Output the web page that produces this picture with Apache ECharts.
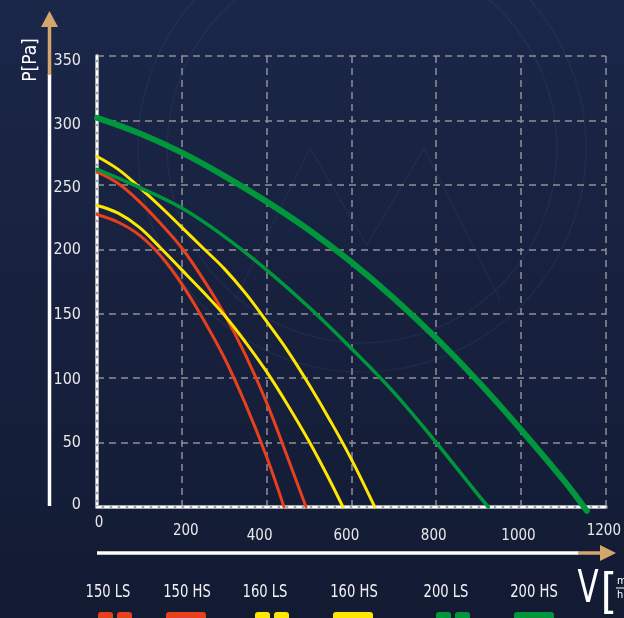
<!DOCTYPE html>
<html><head><meta charset="utf-8">
<script src="https://cdn.jsdelivr.net/npm/echarts@6/dist/echarts.min.js"></script>
<style>html,body{margin:0;padding:0;background:#161f3a;overflow:hidden}#c{width:624px;height:618px}</style>
</head><body><div id="c"></div>
<script>
// ---- data ----
const seriesNames = ['150 LS','150 HS','160 LS','160 HS','200 LS','200 HS'];
const s150LS = [[0,227],[50,221],[100,211],[150,195],[200,173],[250,146],[300,116],[350,80],[400,39],[441,0]];
const s150HS = [[0,260],[50,251],[100,237],[150,220],[200,201],[250,177],[300,150],[350,118],[400,81],[450,38],[493,0]];
const s160LS = [[0,234],[50,228],[100,217],[150,201],[200,184],[250,167],[300,149],[350,128],[400,105],[450,79],[500,51],[550,20],[580,0]];
const s160HS = [[0,272],[50,262],[100,248],[150,233],[200,217],[250,201],[300,185],[350,166],[400,144],[450,121],[500,95],[550,67],[600,37],[655,0]];
const s200LS = [[0,262],[100,248],[200,232],[300,210],[400,184],[500,155],[600,123],[700,89],[800,50],[900,9],[923,0]];
const s200HS = [[0,302],[100,290],[200,275],[300,257],[400,237],[500,215],[600,190],[700,162],[800,131],[900,97],[1000,60],[1100,21],[1155,-3]];
const xMin = 0, xMax = 1200, xStep = 200;
const yMin = 0, yMax = 350, yStep = 50;
const yTitle = 'P[Pa]';
const xTitle = 'V';

// ---- styles ----
const FONT = '"DejaVu Sans Condensed","Liberation Sans Narrow",sans-serif';
const RED = '#e8401c', YEL = '#ffe600', GRN = '#00963c', TAN = '#d4a66c';
const colors = [RED, RED, YEL, YEL, GRN, GRN];
const widths = [3, 3, 3, 3, 3.5, 6];
const allData = [s150LS, s150HS, s160LS, s160HS, s200LS, s200HS];
const legendTextX = [108, 187, 265, 354, 446, 534];
const legendIconX = [115, 186, 272, 353, 453, 534];

const chart = echarts.init(document.getElementById('c'), null, {renderer: 'canvas'});

const gridLine = {show: true, lineStyle: {color: '#8e9097', width: 1.5, type: [7, 5]}};

function xFmt(v) {
  if (v === 0) return '{a|0}';
  if (v === 200) return '{b|200}';
  if (v === 400) return '{c|400}';
  if (v === 600) return '{d|600}';
  if (v === 1200) return '{e|1200}';
  return '{f|' + v + '}';
}
const base = {color: '#e8e8ea', fontFamily: FONT, fontSize: 15};
const xRich = {
  a: Object.assign({}, base, {padding: [0, 0, 0, 4]}),
  b: Object.assign({}, base, {padding: [8, 0, 0, 8]}),
  c: Object.assign({}, base, {padding: [13, 14, 0, 0]}),
  d: Object.assign({}, base, {padding: [13, 10, 0, 0]}),
  e: Object.assign({}, base, {padding: [8, 4, 0, 0]}),
  f: Object.assign({}, base, {padding: [13, 5, 0, 0]})
};
const ybase = {color: '#e8e8ea', fontFamily: FONT, fontSize: 16};
const yOff = {350: 5, 300: 4, 250: 3, 200: 1, 150: 1, 100: 2, 50: 0, 0: -2};
const yRich = {};
Object.keys(yOff).forEach(k => {
  const o = yOff[k];
  yRich['y' + k] = Object.assign({}, ybase, {padding: o >= 0 ? [2 * o, 0, 0, 0] : [0, 0, -2 * o, 0]});
});
function yFmt(v) { return '{y' + v + '|' + v + '}'; }

const graphics = [];
// faint watermark
graphics.push({type: 'circle', z: -10, silent: true, shape: {cx: 362, cy: 148, r: 195}, style: {fill: 'none', stroke: 'rgba(110,130,180,0.09)', lineWidth: 1.5}});
graphics.push({type: 'circle', z: -10, silent: true, shape: {cx: 362, cy: 148, r: 224}, style: {fill: 'none', stroke: 'rgba(110,130,180,0.09)', lineWidth: 1.5}});
graphics.push({type: 'polyline', z: -10, silent: true, shape: {points: [[235, 300], [310, 148], [367, 245], [424, 148], [500, 300]]}, style: {fill: 'none', stroke: 'rgba(110,130,180,0.09)', lineWidth: 1.5}});

// y arrow
graphics.push({type: 'line', shape: {x1: 49.5, y1: 506, x2: 49.5, y2: 74}, style: {stroke: '#ffffff', lineWidth: 3.5}});
graphics.push({type: 'line', shape: {x1: 49.5, y1: 75, x2: 49.5, y2: 26}, style: {stroke: TAN, lineWidth: 3.5}});
graphics.push({type: 'polygon', shape: {points: [[49.5, 11], [58, 27], [41, 27]]}, style: {fill: TAN}});
// x arrow
graphics.push({type: 'line', shape: {x1: 97, y1: 553, x2: 579, y2: 553}, style: {stroke: '#ffffff', lineWidth: 3.5}});
graphics.push({type: 'line', shape: {x1: 578, y1: 553, x2: 602, y2: 553}, style: {stroke: TAN, lineWidth: 3.5}});
graphics.push({type: 'polygon', shape: {points: [[616, 553], [600, 545], [600, 561]]}, style: {fill: TAN}});
// axis titles
graphics.push({type: 'text', x: 31, y: 60, rotation: Math.PI / 2, style: {text: yTitle, fill: '#ffffff', font: '19px ' + FONT, textAlign: 'center', textVerticalAlign: 'middle'}});
graphics.push({type: 'text', x: 588, y: 591, scaleX: 0.78, style: {text: xTitle, fill: '#ffffff', font: '44px ' + FONT, textAlign: 'center', textVerticalAlign: 'middle'}});
graphics.push({type: 'text', x: 609, y: 596, style: {text: '[', fill: '#ffffff', font: '48px ' + FONT, textAlign: 'center', textVerticalAlign: 'middle'}});
graphics.push({type: 'text', x: 617, y: 581, style: {text: 'm³', fill: '#ffffff', font: '11px ' + FONT, textAlign: 'left', textVerticalAlign: 'middle'}});
graphics.push({type: 'line', shape: {x1: 616, y1: 588, x2: 624, y2: 588}, style: {stroke: '#ffffff', lineWidth: 1}});
graphics.push({type: 'text', x: 617, y: 595, style: {text: 'h', fill: '#ffffff', font: '11px ' + FONT, textAlign: 'left', textVerticalAlign: 'middle'}});

// legend (built from names / colors)
seriesNames.forEach((name, i) => {
  graphics.push({type: 'text', x: legendTextX[i], y: 593, scaleX: 0.86, style: {text: name, fill: '#f2f2f2', font: '17px ' + FONT, textAlign: 'center', textVerticalAlign: 'middle'}});
  const cx = legendIconX[i];
  if (name.indexOf('LS') >= 0) {
    graphics.push({type: 'rect', shape: {x: cx - 17, y: 612, width: 15, height: 14, r: [3, 3, 0, 0]}, style: {fill: colors[i]}});
    graphics.push({type: 'rect', shape: {x: cx + 2, y: 612, width: 15, height: 14, r: [3, 3, 0, 0]}, style: {fill: colors[i]}});
  } else {
    graphics.push({type: 'rect', shape: {x: cx - 20, y: 612, width: 40, height: 14, r: [3, 3, 0, 0]}, style: {fill: colors[i]}});
  }
});

const option = {
  backgroundColor: {type: 'linear', x: 0, y: 0, x2: 0, y2: 1, colorStops: [{offset: 0, color: '#1b2749'}, {offset: 1, color: '#131b33'}]},
  animation: false,
  grid: {left: 97, right: 17, top: 56, bottom: 111},
  xAxis: [
    {type: 'value', min: xMin, max: xMax, interval: xStep, position: 'bottom',
     axisLine: {show: true, onZero: false, lineStyle: {color: '#a3a5ab', width: 4}},
     axisTick: {show: false}, splitLine: gridLine,
     axisLabel: {show: true, margin: 9, formatter: xFmt, rich: xRich, verticalAlign: 'top'}},
    {type: 'value', min: xMin, max: xMax, interval: xStep, position: 'bottom',
     axisLine: {show: true, onZero: false, lineStyle: {color: '#ffffff', width: 2, type: [4, 4]}},
     axisTick: {show: false}, splitLine: {show: false}, axisLabel: {show: false}}
  ],
  yAxis: [
    {type: 'value', min: yMin, max: yMax, interval: yStep, position: 'left',
     axisLine: {show: true, onZero: false, lineStyle: {color: '#a3a5ab', width: 4}},
     axisTick: {show: false}, splitLine: gridLine,
     axisLabel: {show: true, margin: 16, formatter: yFmt, rich: yRich}},
    {type: 'value', min: yMin, max: yMax, interval: yStep, position: 'left',
     axisLine: {show: true, onZero: false, lineStyle: {color: '#ffffff', width: 2, type: [4, 4]}},
     axisTick: {show: false}, splitLine: {show: false}, axisLabel: {show: false}}
  ],
  series: seriesNames.map((name, i) => ({
    name: name, type: 'line', data: allData[i], xAxisIndex: 0, yAxisIndex: 0,
    smooth: 0.4, showSymbol: false, symbol: 'none', clip: false,
    lineStyle: {color: colors[i], width: widths[i], cap: 'round'},
    z: 3 + i
  })),
  graphic: graphics
};
chart.setOption(option);
</script>
</body></html>
